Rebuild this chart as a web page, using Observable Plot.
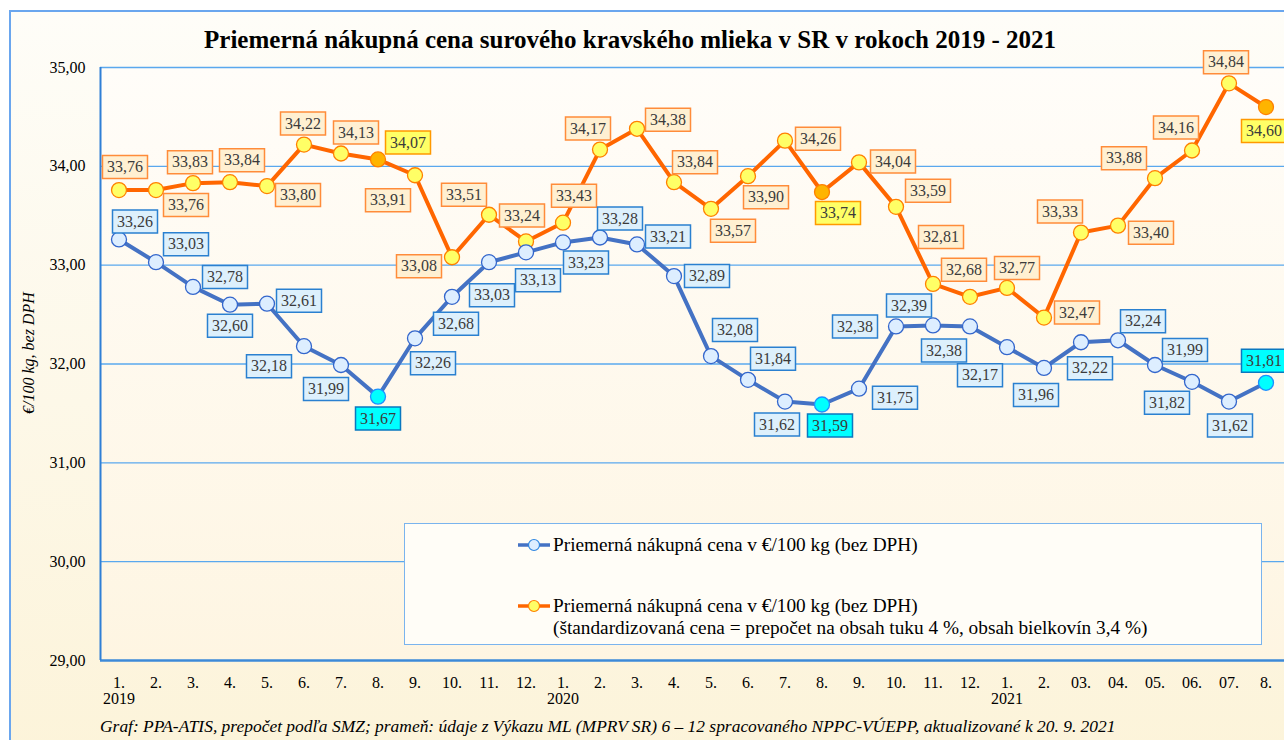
<!DOCTYPE html>
<html><head><meta charset="utf-8">
<script src="https://cdn.jsdelivr.net/npm/d3@7"></script>
<script src="https://cdn.jsdelivr.net/npm/@observablehq/plot@0.6"></script>
<style>
html,body{margin:0;padding:0;background:#fff;}
#wrap{position:relative;width:1284px;height:740px;overflow:hidden;font-family:"Liberation Serif","Tinos","Times New Roman","DejaVu Serif","Noto Serif",serif;background:#fff;color:#000;}
#bg{position:absolute;left:9px;top:10px;width:1320px;height:780px;border-left:2px solid #6aa6ee;border-top:2px solid #6aa6ee;background:linear-gradient(#fefdf8,#fcf3d8);}
#chart{position:absolute;left:0;top:0;}
#title{position:absolute;left:0;width:1260px;top:27px;text-align:center;font-weight:bold;font-size:25px;line-height:25px;white-space:nowrap;}
#caption{position:absolute;left:100px;top:719px;font-style:italic;font-size:16px;line-height:16px;white-space:nowrap;transform-origin:0 0;}
#legend{position:absolute;left:404px;top:523px;width:858px;height:122px;box-sizing:border-box;border:1.5px solid #7ab4ee;background:#fffdf7;}
.lt{position:absolute;left:553px;font-size:19.3px;line-height:22px;white-space:nowrap;}
.sw{position:absolute;left:516px;}
</style></head>
<body>
<div id="wrap">
  <div id="bg"></div>
  <svg width="0" height="0" style="position:absolute">
    <defs>
      <linearGradient id="pbg" x1="0" y1="0" x2="0" y2="1">
        <stop offset="0" stop-color="#fffdf9"/>
        <stop offset="1" stop-color="#fef5e2"/>
      </linearGradient>
    </defs>
  </svg>
  <div id="chart"></div>
  <div id="title">Priemerná nákupná cena surového kravského mlieka v SR v rokoch 2019 - 2021</div>
  <div id="legend"></div>
  <svg class="sw" style="top:535px" width="36" height="20"><line x1="2" y1="10" x2="34" y2="10" stroke="#4472c4" stroke-width="3.5"/><circle cx="18" cy="10" r="5.5" fill="#ddeeff" stroke="#2f86e0" stroke-width="1.2"/></svg>
  <div class="lt" style="top:534px">Priemerná nákupná cena v €/100 kg (bez DPH)</div>
  <svg class="sw" style="top:596px" width="36" height="20"><line x1="2" y1="10" x2="34" y2="10" stroke="#ff6600" stroke-width="3.5"/><circle cx="18" cy="10" r="5.5" fill="#ffff66" stroke="#ff8000" stroke-width="1.2"/></svg>
  <div class="lt" style="top:595px">Priemerná nákupná cena v €/100 kg (bez DPH)<br>(štandardizovaná cena = prepočet na obsah tuku 4 %, obsah bielkovín 3,4 %)</div>
  <div id="caption">Graf: PPA-ATIS, prepočet podľa SMZ; prameň: údaje z Výkazu ML (MPRV SR) 6 – 12 spracovaného NPPC-VÚEPP, aktualizované k 20. 9. 2021</div>
</div>
<script>
// ---- data ----
const months = ["1.","2.","3.","4.","5.","6.","7.","8.","9.","10.","11.","12.",
                "1.","2.","3.","4.","5.","6.","7.","8.","9.","10.","11.","12.",
                "1.","2.","03.","04.","05.","06.","07.","8."];
const years = [2019,2019,2019,2019,2019,2019,2019,2019,2019,2019,2019,2019,
               2020,2020,2020,2020,2020,2020,2020,2020,2020,2020,2020,2020,
               2021,2021,2021,2021,2021,2021,2021,2021];
const priceBasic = [33.26,33.03,32.78,32.60,32.61,32.18,31.99,31.67,32.26,32.68,33.03,33.13,
                    33.23,33.28,33.21,32.89,32.08,31.84,31.62,31.59,31.75,32.38,32.39,32.38,
                    32.17,31.96,32.22,32.24,31.99,31.82,31.62,31.81];
const priceStd = [33.76,33.76,33.83,33.84,33.80,34.22,34.13,34.07,33.91,33.08,33.51,33.24,
                  33.43,34.17,34.38,33.84,33.57,33.90,34.26,33.74,34.04,33.59,32.81,32.68,
                  32.77,32.47,33.33,33.40,33.88,34.16,34.84,34.60];
const yTicks = [29,30,31,32,33,34,35];
// label placement (pixel offsets of each value box from its point)
const offBasic = [[16,-18],[30,-18],[32,-10],[0,21],[32,-3],[-35,20],[-15,24],[0,22],[18,25],[4,27],[3,33],[12,28],
                  [23,20],[20,-19],[31,-8],[33,0],[24,-26],[25,-21],[-8,23],[8,21],[36,9],[-41,0],[-24,-20],[-26,24],
                  [-27,28],[-8,27],[9,26],[25,-19],[30,-15],[-25,21],[1,24],[-2,-22]];
const offStd = [[6,-23],[30,15],[-3,-21],[12,-22],[31,9],[-1,-21],[15,-21],[30,-17],[-27,25],[-33,9],[-25,-20],[-4,-26],
                [11,-27],[-12,-21],[31,-9],[21,-20],[22,22],[18,21],[33,-2],[16,21],[34,-1],[32,-16],[8,-47],[-6,-27],
                [10,-20],[33,-5],[-21,-21],[33,7],[-31,-20],[-16,-23],[-3,-21],[-2,24]];

const FONT = '"Liberation Serif","Tinos","Times New Roman","DejaVu Serif","Noto Serif",serif';
const rows = months.map((m, i) => ({i, month: m, year: years[i], basic: priceBasic[i], std: priceStd[i]}));
const isAug = d => d.month === "8.";
const fmt = v => v.toFixed(2).replace(".", ",");
const boxSym = {draw(ctx) { ctx.moveTo(-22.5,-11.5); ctx.lineTo(22.5,-11.5); ctx.lineTo(22.5,11.5); ctx.lineTo(-22.5,11.5); ctx.closePath(); }};

function labelMarks(key, offs, fillN, strokeN, fillS, strokeS) {
  const out = [];
  rows.forEach((d, k) => {
    const [dx, dy] = offs[k];
    const sp = isAug(d);
    out.push(Plot.dot([d], {x: "i", y: key, dx, dy, r: 5, symbol: boxSym,
      fill: sp ? fillS : fillN, stroke: sp ? strokeS : strokeN, strokeWidth: 1.5}));
    out.push(Plot.text([d], {x: "i", y: key, dx, dy, text: r => fmt(r[key]), fontSize: 16, fill: "#3b3b3b"}));
  });
  return out;
}

const plot = Plot.plot({
  width: 1284, height: 740,
  marginTop: 67, marginBottom: 80, marginLeft: 100, marginRight: 0,
  style: {fontFamily: FONT, fontSize: "16px", background: "transparent", color: "#000", overflow: "visible"},
  x: {type: "linear", domain: [-0.5, 31.5]},
  y: {domain: [29, 35]},
  marks: [
    Plot.frame({fill: "url(#pbg)", stroke: "none"}),
    Plot.ruleY(yTicks.filter(t => t > 29), {stroke: "#5aa8ee", strokeWidth: 1.3}),
    Plot.ruleY([29], {stroke: "#3d8ad8", strokeWidth: 2.5}),
    Plot.ruleX([-0.5], {stroke: "#2f7fd6", strokeWidth: 2}),
    Plot.axisY({ticks: yTicks, tickFormat: fmt, tickSize: 0, tickPadding: 15, fontSize: 16, label: null}),
    Plot.axisX({ticks: d3.range(32), tickFormat: i => months[i], tickSize: 0, tickPadding: 16, fontSize: 16, label: null}),
    Plot.text(rows.filter(d => d.month === "1."), {x: "i", text: d => String(d.year), frameAnchor: "bottom", dy: 43, fontSize: 16}),
    Plot.text(["€/100 kg, bez DPH"], {frameAnchor: "left", text: d => d, rotate: -90, dx: -72, dy: 50, fontSize: 16, fontStyle: "italic"}),
    Plot.line(rows, {x: "i", y: "std", stroke: "#ff6600", strokeWidth: 4}),
    Plot.line(rows, {x: "i", y: "basic", stroke: "#4472c4", strokeWidth: 4}),
    Plot.dot(rows, {filter: d => !isAug(d), x: "i", y: "std", r: 7.5, fill: "#ffff66", stroke: "#ff8000", strokeWidth: 1.3}),
    Plot.dot(rows, {filter: isAug, x: "i", y: "std", r: 7.5, fill: "#ffb400", stroke: "#ff8000", strokeWidth: 1.3}),
    Plot.dot(rows, {filter: d => !isAug(d), x: "i", y: "basic", r: 7.5, fill: "#ddeeff", stroke: "#3366cc", strokeWidth: 1.3}),
    Plot.dot(rows, {filter: isAug, x: "i", y: "basic", r: 7.5, fill: "#00ffff", stroke: "#1e90ff", strokeWidth: 1.3}),
    ...labelMarks("std", offStd, "#fff0d2", "#ff8c3a", "#ffff66", "#ff9900"),
    ...labelMarks("basic", offBasic, "#ddf0fc", "#2a80d0", "#00ffff", "#0a78c0")
  ]
});
document.getElementById("chart").appendChild(plot);
const cap = document.getElementById("caption");
cap.style.transform = `scaleX(${1015 / cap.offsetWidth})`;
</script>
</body></html>
